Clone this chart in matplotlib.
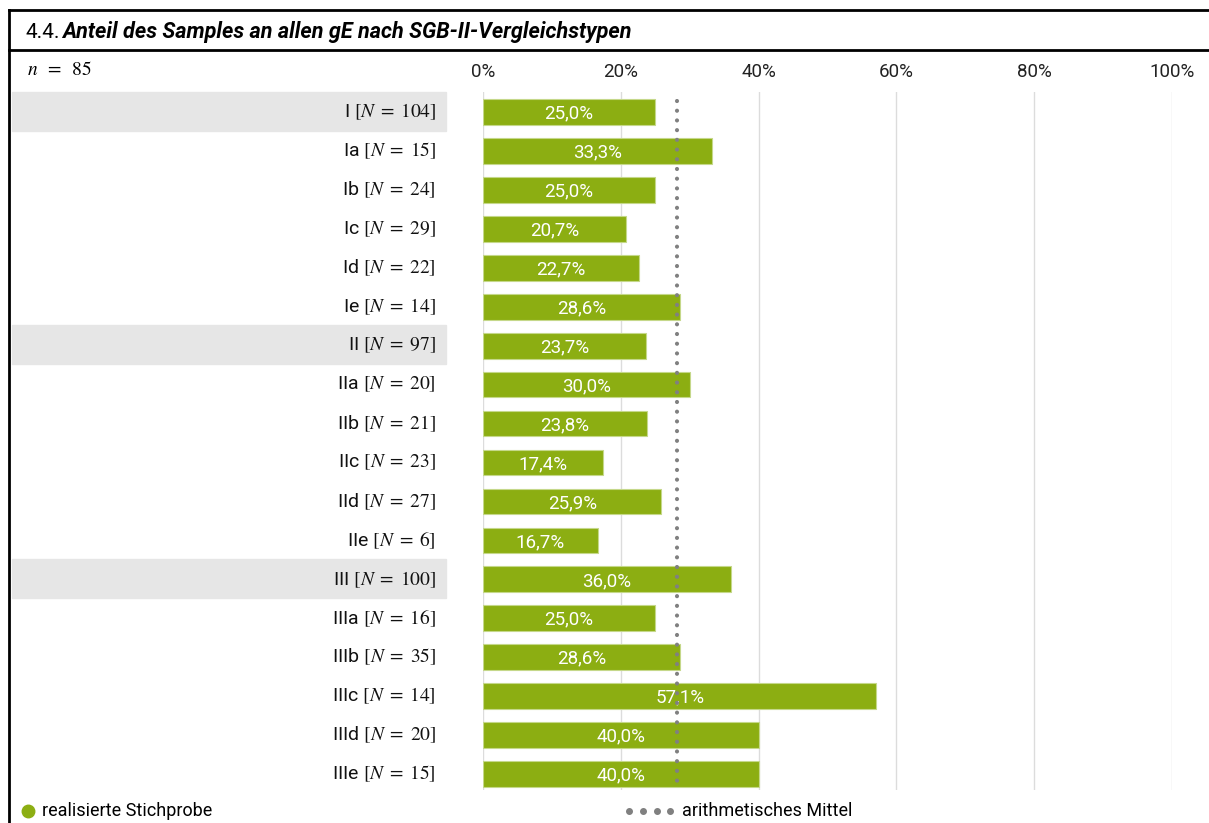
"""Anteil des Samples an allen gE nach SGB-II-Vergleichstypen."""

import matplotlib
matplotlib.use("Agg")
import matplotlib.pyplot as plt
from matplotlib.patches import Rectangle
from matplotlib.lines import Line2D
from matplotlib.transforms import blended_transform_factory

types = ["I", "Ia", "Ib", "Ic", "Id", "Ie",
         "II", "IIa", "IIb", "IIc", "IId", "IIe",
         "III", "IIIa", "IIIb", "IIIc", "IIId", "IIIe"]
type_n = [104, 15, 24, 29, 22, 14,
          97, 20, 21, 23, 27, 6,
          100, 16, 35, 14, 20, 15]
shares = [25.0, 33.3, 25.0, 20.7, 22.7, 28.6,
          23.7, 30.0, 23.8, 17.4, 25.9, 16.7,
          36.0, 25.0, 28.6, 57.1, 40.0, 40.0]
main_types = ["I", "II", "III"]
mean_share = 28.2
sample_n = 85
x_ticks = [0, 20, 40, 60, 80, 100]

GREEN = "#8cae12"
GREY_DOT = "#808080"

plt.rcParams["font.family"] = ["Roboto", "DejaVu Sans"]
plt.rcParams["mathtext.fontset"] = "stix"

W, H = 1209, 823
fig = plt.figure(figsize=(W / 100, H / 100), dpi=100)


def fx(px):
    return px / W


def fy(py):
    return 1 - py / H


ax = fig.add_axes([fx(483), fy(790), fx(1172) - fx(483), fy(92) - fy(790)])
rows = list(range(len(types)))
ax.set_xlim(0, 100)
ax.set_ylim(len(types) - 1 + 0.41, -0.514)

for t in x_ticks:
    ax.axvline(t, color="#dcdcdc", lw=1.0, zorder=0)

ax.barh(rows, shares, height=0.66, color=GREEN, edgecolor="#c5d88a",
        linewidth=0.8, zorder=2)
for r, v in zip(rows, shares):
    ax.text(v / 2, r + 0.04, f"{v:.1f}%".replace(".", ","), ha="center",
            va="center", color="white", fontsize=13.5, zorder=3)

ax.plot([mean_share, mean_share], [-0.29, len(types) - 1 + 0.41],
        color=GREY_DOT, lw=3, linestyle=(0, (0.01, 2.32)),
        dash_capstyle="round", zorder=4, clip_on=False)

ax.set_xticks(x_ticks)
ax.set_xticklabels([f"{t}%" for t in x_ticks])
ax.xaxis.tick_top()
ax.tick_params(axis="x", length=0, labelsize=13.5, pad=8, colors="#222222")
ax.set_yticks([])
for s in ax.spines.values():
    s.set_visible(False)

# row labels with grey band for main types
trans = blended_transform_factory(fig.transFigure, ax.transData)
for r, name, n in zip(rows, types, type_n):
    if name in main_types:
        fig.add_artist(Rectangle((fx(12), r - 0.52), fx(446) - fx(12), 1.0,
                                 transform=trans, color="#e6e6e6", zorder=0))
    fig.text(fx(436), r, f"{name} $[N\\;=\\;{n}]$", transform=trans,
             ha="right", va="center", fontsize=14, color="#111111")

# frame and title bar
fig.add_artist(Line2D([fx(9), 1], [fy(10), fy(10)], color="black", lw=2))
fig.add_artist(Line2D([fx(9), 1], [fy(50), fy(50)], color="black", lw=2))
fig.add_artist(Line2D([fx(9), fx(9)], [fy(10), 0], color="black", lw=2))
fig.text(fx(25), fy(32), "4.4.", fontsize=15, va="center", ha="left")
fig.text(fx(62), fy(32), "Anteil des Samples an allen gE nach SGB-II-Vergleichstypen",
         fontsize=15.6, va="center", ha="left", fontweight="bold", style="italic")
fig.text(fx(27), fy(70), f"$n\\;\\;=\\;\\;{sample_n}$", fontsize=14,
         va="center", ha="left")

# legend
fig.add_artist(Line2D([fx(28)], [fy(811)], marker="o", markersize=9,
                      color=GREEN, lw=0))
fig.text(fx(42), fy(811), "realisierte Stichprobe", fontsize=13, va="center")
fig.add_artist(Line2D([fx(629), fx(643), fx(657), fx(670)], [fy(811)] * 4,
                      marker="o", markersize=4, color=GREY_DOT, lw=0))
fig.text(fx(682), fy(811), "arithmetisches Mittel", fontsize=13, va="center")

fig.savefig("out.png", dpi=100)
